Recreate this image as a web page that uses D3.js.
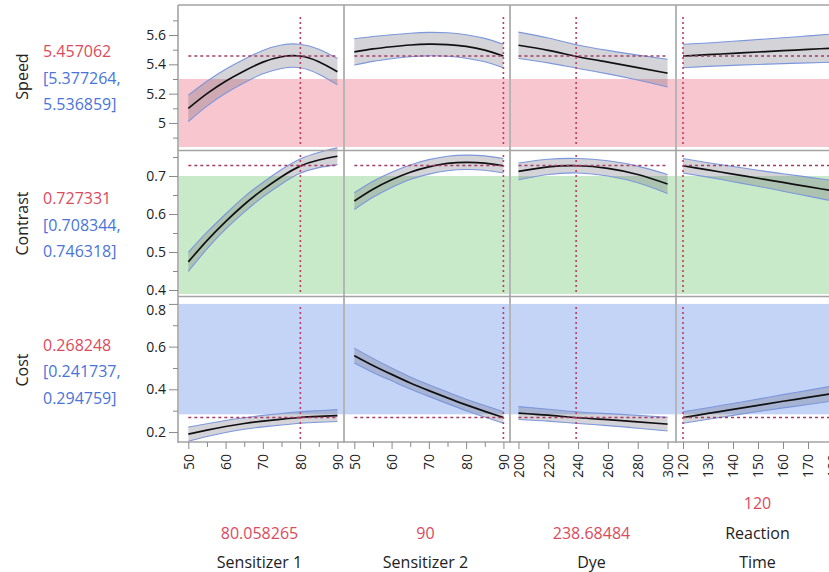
<!DOCTYPE html>
<html><head><meta charset="utf-8">
<script src="https://cdn.jsdelivr.net/npm/d3@7/dist/d3.min.js"></script>
<style>
html,body{margin:0;padding:0;background:#fff;}
svg{display:block;font-family:"Open Sans","Noto Sans",sans-serif;}
</style></head><body>
<svg id="chart" width="829" height="572"></svg>
<script>
// ---- Responses ----
const responses = ["Speed", "Contrast", "Cost"];
const predicted = [5.457062, 0.727331, 0.268248];
const ciLow = [5.377264, 0.708344, 0.241737];
const ciHigh = [5.536859, 0.746318, 0.294759];
const yDomains = [[4.836, 5.798], [0.3895, 0.7605], [0.158, 0.823]];
const yMajor = [[5, 5.2, 5.4, 5.6], [0.4, 0.5, 0.6, 0.7], [0.2, 0.4, 0.6, 0.8]];
const yMinor = [[4.9, 5.1, 5.3, 5.5, 5.7], [0.45, 0.55, 0.65, 0.75], [0.3, 0.5, 0.7]];
// desirable region for each response [low, high] (null = axis edge)
const regions = [[null, 5.3], [null, 0.7], [0.283, 0.8]];
const regionColors = ["#f8c6ce", "#c8eac8", "#c3d4f7"];

// ---- Factors ----
const factorLines = [["Sensitizer 1"], ["Sensitizer 2"], ["Dye"], ["Reaction", "Time"]];
const currentX = [80.058265, 90, 238.68484, 120];
const xDomains = [[47.5, 91.5], [47.5, 91.5], [195, 305], [117.6, 183.2]];
const xMajor = [[50, 60, 70, 80, 90], [50, 60, 70, 80, 90],
                [200, 220, 240, 260, 280, 300], [120, 130, 140, 150, 160, 170, 180]];
const xMinor = [[55, 65, 75, 85], [55, 65, 75, 85], [], []];

// ---- Profile traces (factor grid, prediction, half-width of confidence band) ----
const s1Grid = [50, 55, 60, 65, 70, 75, 80, 85, 90];
const s2Grid = [50, 55, 60, 65, 70, 75, 80, 85, 90];
const dyeGrid = [200, 220, 240, 260, 280, 300];
const rtGrid = [120, 130, 140, 150, 160, 170, 180];

const speedS1 = [5.10, 5.20, 5.285, 5.355, 5.415, 5.452, 5.457, 5.418, 5.35];
const speedS1Half = [0.09, 0.085, 0.082, 0.08, 0.08, 0.08, 0.08, 0.085, 0.09];
const speedS2 = [5.485, 5.505, 5.52, 5.532, 5.538, 5.535, 5.522, 5.497, 5.457];
const speedS2Half = [0.09, 0.085, 0.082, 0.08, 0.08, 0.08, 0.08, 0.08, 0.08];
const speedDye = [5.53, 5.495, 5.452, 5.415, 5.378, 5.34];
const speedDyeHalf = [0.09, 0.085, 0.08, 0.08, 0.085, 0.095];
const speedRT = [5.457, 5.466, 5.475, 5.484, 5.493, 5.502, 5.511];
const speedRTHalf = [0.08, 0.08, 0.082, 0.085, 0.088, 0.092, 0.096];

const contrastS1 = [0.474, 0.53, 0.58, 0.625, 0.664, 0.698, 0.726, 0.742, 0.752];
const contrastS1Half = [0.025, 0.022, 0.02, 0.02, 0.019, 0.019, 0.019, 0.02, 0.022];
const contrastS2 = [0.634, 0.665, 0.69, 0.71, 0.724, 0.733, 0.736, 0.734, 0.727];
const contrastS2Half = [0.022, 0.021, 0.02, 0.019, 0.019, 0.019, 0.019, 0.019, 0.019];
const contrastDye = [0.712, 0.724, 0.727, 0.72, 0.704, 0.679];
const contrastDyeHalf = [0.022, 0.02, 0.019, 0.02, 0.022, 0.025];
const contrastRT = [0.727, 0.716, 0.705, 0.694, 0.683, 0.672, 0.661];
const contrastRTHalf = [0.019, 0.019, 0.02, 0.021, 0.023, 0.025, 0.027];

const costS1 = [0.19, 0.209, 0.226, 0.24, 0.251, 0.26, 0.268, 0.273, 0.277];
const costS1Half = [0.033, 0.03, 0.028, 0.027, 0.027, 0.027, 0.027, 0.027, 0.028];
const costS2 = [0.558, 0.512, 0.47, 0.43, 0.394, 0.36, 0.327, 0.297, 0.268];
const costS2Half = [0.035, 0.033, 0.03, 0.028, 0.027, 0.027, 0.027, 0.027, 0.027];
const costDye = [0.289, 0.279, 0.267, 0.258, 0.248, 0.237];
const costDyeHalf = [0.03, 0.028, 0.027, 0.028, 0.03, 0.032];
const costRT = [0.268, 0.287, 0.306, 0.325, 0.344, 0.362, 0.381];
const costRTHalf = [0.027, 0.027, 0.028, 0.029, 0.031, 0.033, 0.035];

const grids = [s1Grid, s2Grid, dyeGrid, rtGrid];
const traces = [
  [[speedS1, speedS1Half], [speedS2, speedS2Half], [speedDye, speedDyeHalf], [speedRT, speedRTHalf]],
  [[contrastS1, contrastS1Half], [contrastS2, contrastS2Half], [contrastDye, contrastDyeHalf], [contrastRT, contrastRTHalf]],
  [[costS1, costS1Half], [costS2, costS2Half], [costDye, costDyeHalf], [costRT, costRTHalf]]
];

// ---- Layout ----
const colX0 = [178, 344, 510, 676];
const colW = 166;
const rowRanges = [[147, 6], [294, 153], [441, 299]];
const rowLines = [5, 150.5, 296.5];
const crossTop = [17, 155, 307];   // where the factor-setting lines start in each row
const axisY = 442;

const RED = "#dc4a5e", BLUE = "#4a74d9", FRAME = "#a3a3a3";
const curve = d3.curveNatural;

const svg = d3.select("#chart");

const xScales = xDomains.map((d, c) => d3.scaleLinear().domain(d).range([colX0[c] + 1, colX0[c] + colW - 1]));
const yScales = yDomains.map((d, r) => d3.scaleLinear().domain(d).range(rowRanges[r]));

// desirability backgrounds
responses.forEach((_, r) => {
  const y = yScales[r];
  const lo = regions[r][0] === null ? yDomains[r][0] : regions[r][0];
  const hi = regions[r][1] === null ? yDomains[r][1] : regions[r][1];
  colX0.forEach((x0) => {
    svg.append("rect")
      .attr("x", x0 + 1).attr("width", colW - 2)
      .attr("y", y(hi)).attr("height", y(lo) - y(hi))
      .attr("fill", regionColors[r]);
  });
});

// profile traces
responses.forEach((_, r) => {
  const y = yScales[r];
  colX0.forEach((x0, c) => {
    const x = xScales[c];
    const [vals, half] = traces[r][c];
    const pts = grids[c].map((g, i) => ({x: g, v: vals[i], h: half[i]}));
    const g = svg.append("g");
    g.append("path").datum(pts)
      .attr("d", d3.area().curve(curve)
        .x(d => x(d.x)).y0(d => y(d.v - d.h)).y1(d => y(d.v + d.h)))
      .attr("fill", "rgba(92,92,112,0.27)");
    [-1, 1].forEach(s => {
      g.append("path").datum(pts)
        .attr("d", d3.line().curve(curve).x(d => x(d.x)).y(d => y(d.v + s * d.h)))
        .attr("fill", "none").attr("stroke", "#7c97dd").attr("stroke-width", 1.1);
    });
    g.append("path").datum(pts)
      .attr("d", d3.line().curve(curve).x(d => x(d.x)).y(d => y(d.v)))
      .attr("fill", "none").attr("stroke", "#111").attr("stroke-width", 1.7);
    // predicted value reference
    g.append("line")
      .attr("x1", x(grids[c][0])).attr("x2", x(grids[c][grids[c].length - 1]))
      .attr("y1", y(predicted[r])).attr("y2", y(predicted[r]))
      .attr("stroke", "#a33d66").attr("stroke-width", 1.5).attr("stroke-dasharray", "3,3");
    // current factor setting
    g.append("line")
      .attr("x1", x(currentX[c])).attr("x2", x(currentX[c]))
      .attr("y1", crossTop[r]).attr("y2", rowRanges[r][0])
      .attr("stroke", "#c23a62").attr("stroke-width", 1.6).attr("stroke-dasharray", "2,3");
  });
});

// frames
rowLines.forEach(yy => {
  svg.append("line").attr("x1", 178).attr("x2", 829).attr("y1", yy).attr("y2", yy)
    .attr("stroke", FRAME).attr("stroke-width", 1.6);
});
colX0.forEach(x0 => {
  svg.append("line").attr("x1", x0).attr("x2", x0).attr("y1", 5).attr("y2", axisY + 1)
    .attr("stroke", FRAME).attr("stroke-width", 1.6);
});
svg.append("line").attr("x1", 178).attr("x2", 829).attr("y1", axisY).attr("y2", axisY)
  .attr("stroke", FRAME).attr("stroke-width", 1.6);

// y axes
responses.forEach((_, r) => {
  const gMaj = svg.append("g").attr("transform", "translate(178,0)")
    .call(d3.axisLeft(yScales[r]).tickValues(yMajor[r]).tickSize(9).tickPadding(3)
      .tickFormat(d3.format("~g")).tickSizeOuter(0));
  gMaj.select(".domain").remove();
  gMaj.selectAll("line").attr("stroke", "#8a8a8a");
  gMaj.selectAll("text").attr("font-size", 14).attr("fill", "#222")
    .attr("font-family", "'Open Sans','Noto Sans',sans-serif");
  // keep the top label inside its own row
  const topTick = yMajor[r][yMajor[r].length - 1];
  gMaj.selectAll(".tick").filter(d => d === topTick && yScales[r](topTick) - rowRanges[r][1] < 7)
    .select("text").attr("y", 6);
  const gMin = svg.append("g").attr("transform", "translate(178,0)")
    .call(d3.axisLeft(yScales[r]).tickValues(yMinor[r]).tickSize(5).tickFormat(""));
  gMin.select(".domain").remove();
  gMin.selectAll("line").attr("stroke", "#8a8a8a");
});

// x axes
colX0.forEach((x0, c) => {
  const gMaj = svg.append("g").attr("transform", `translate(0,${axisY})`)
    .call(d3.axisBottom(xScales[c]).tickValues(xMajor[c]).tickSize(7).tickSizeOuter(0)
      .tickFormat(d3.format("d")));
  gMaj.select(".domain").remove();
  gMaj.selectAll("line").attr("stroke", "#8a8a8a");
  gMaj.selectAll("text")
    .attr("transform", "rotate(-90)").attr("x", -12).attr("y", 0).attr("dy", "0.35em")
    .attr("text-anchor", "end").attr("font-size", 14).attr("fill", "#222")
    .attr("font-family", "'Open Sans','Noto Sans',sans-serif");
  if (xMinor[c].length) {
    const gMin = svg.append("g").attr("transform", `translate(0,${axisY})`)
      .call(d3.axisBottom(xScales[c]).tickValues(xMinor[c]).tickSize(5).tickFormat(""));
    gMin.select(".domain").remove();
    gMin.selectAll("line").attr("stroke", "#8a8a8a");
  }
});

// response labels on the left
responses.forEach((name, r) => {
  const mid = (rowRanges[r][0] + rowRanges[r][1]) / 2;
  svg.append("text").attr("transform", `translate(28,${mid}) rotate(-90)`)
    .attr("text-anchor", "middle").attr("font-size", 16).attr("fill", "#222").text(name);
  const lines = [[String(predicted[r]), RED], ["[" + ciLow[r] + ",", BLUE], [ciHigh[r] + "]", BLUE]];
  lines.forEach(([t, col], i) => {
    svg.append("text").attr("x", 43).attr("y", mid + 7 + (i - 1) * 26.5)
      .attr("font-size", 16).attr("fill", col).text(t);
  });
});

// factor labels below
factorLines.forEach((lines, c) => {
  const cx = colX0[c] + colW / 2 - 1.5;
  const nameBase = 568;
  lines.slice().reverse().forEach((t, i) => {
    svg.append("text").attr("x", cx).attr("y", nameBase - i * 29.5)
      .attr("text-anchor", "middle").attr("font-size", 16).attr("fill", "#222").text(t);
  });
  svg.append("text").attr("x", cx).attr("y", nameBase - lines.length * 29.5)
    .attr("text-anchor", "middle").attr("font-size", 16).attr("fill", RED).text(String(currentX[c]));
});
</script></body></html>
